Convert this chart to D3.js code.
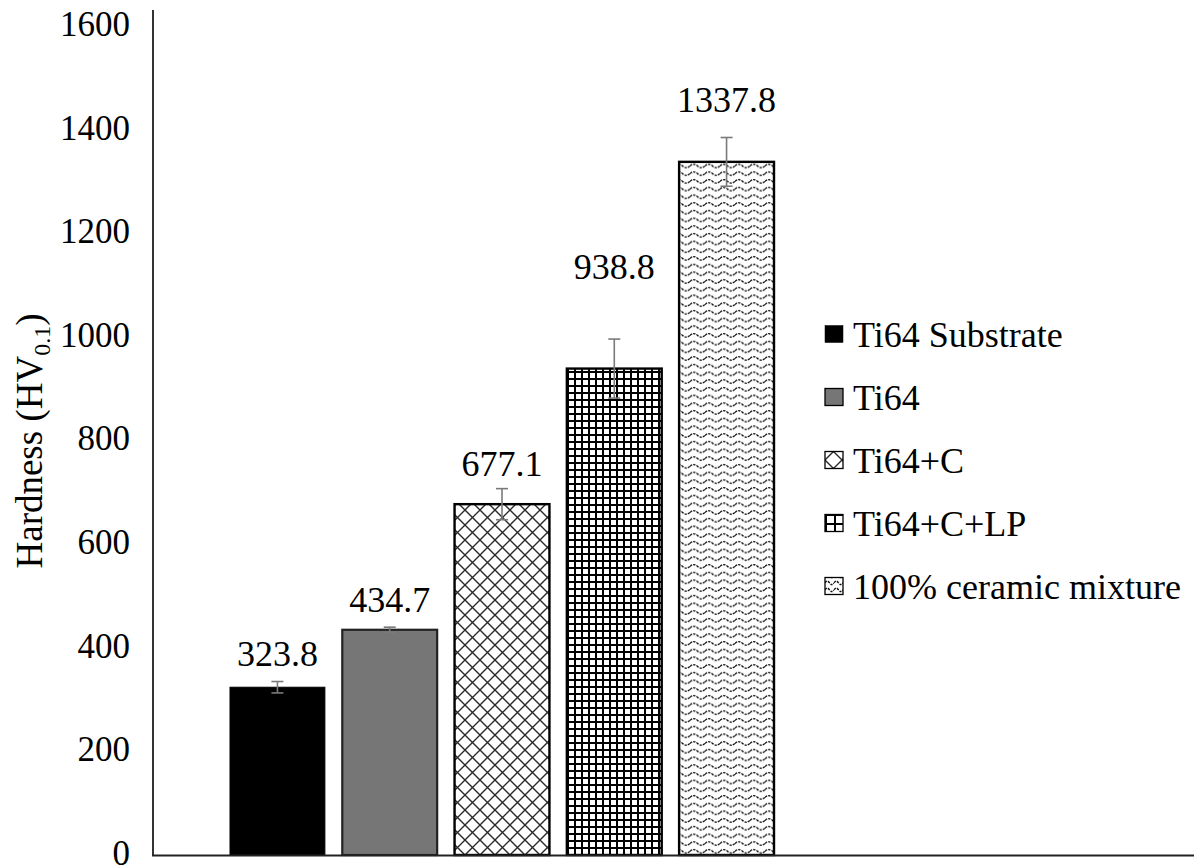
<!DOCTYPE html>
<html>
<head>
<meta charset="utf-8">
<script src="https://cdn.jsdelivr.net/npm/d3@7"></script>
<style>
  html, body { margin: 0; padding: 0; background: #fff; }
  svg { display: block; }
</style>
</head>
<body>
<svg id="chart" width="1194" height="867"></svg>
<script>
// Microhardness of the substrate and the laser-deposited layers
const categories = ["Ti64 Substrate", "Ti64", "Ti64+C", "Ti64+C+LP", "100% ceramic mixture"];
const hardness = [323.8, 434.7, 677.1, 938.8, 1337.8];
const hardnessErr = [11, 5, 30, 57, 47];
const yTicks = [0, 200, 400, 600, 800, 1000, 1200, 1400, 1600];
const fills = ["solid-black", "solid-grey", "hatch", "grid", "wave"];

// pixel lift of each value label above its error-bar cap
const labelLift = [16, 15, 13, 60, 26];

const FONT = "'Liberation Serif', Tinos, 'Times New Roman', 'DejaVu Serif', serif";

const svg = d3.select("#chart").attr("font-family", FONT);
const W = 1194, H = 867;
const axisX = 153, axisTop = 10, baseY = 855.5;

const y = d3.scaleLinear().domain([0, 1600]).range([855, 26]);
const x = d3.scaleBand().domain(categories).range([230, 774]).paddingInner(0.155).paddingOuter(0);

// ---- fill patterns ----
const defs = svg.append("defs");
function makeHatch(id, s) {
  const p = defs.append("pattern").attr("id", id).attr("patternUnits", "userSpaceOnUse")
    .attr("width", s).attr("height", s);
  p.append("rect").attr("width", s).attr("height", s).attr("fill", "#fff");
  p.append("path").attr("d", `M-1,-1L${s + 1},${s + 1}M${s + 1},-1L-1,${s + 1}`)
    .attr("stroke", "#2a2a2a").attr("stroke-width", 1.4).attr("fill", "none");
  return p;
}
function makeGrid(id, s, w) {
  const p = defs.append("pattern").attr("id", id).attr("patternUnits", "userSpaceOnUse")
    .attr("width", s).attr("height", s);
  p.append("rect").attr("width", s).attr("height", s).attr("fill", "#fff");
  p.append("rect").attr("width", w).attr("height", s).attr("fill", "#000");
  p.append("rect").attr("width", s).attr("height", w).attr("fill", "#000");
  return p;
}
function makeWave(id, sw, sh) {
  const p = defs.append("pattern").attr("id", id).attr("patternUnits", "userSpaceOnUse")
    .attr("width", sw).attr("height", sh);
  p.append("rect").attr("width", sw).attr("height", sh).attr("fill", "#fff");
  const m = sh * 0.55;
  p.append("path")
    .attr("d", `M0,${m}Q${sw / 4},${m - 3.4} ${sw / 2},${m}T${sw},${m}`)
    .attr("stroke", "#111").attr("stroke-width", 1.4).attr("fill", "none")
    .attr("stroke-dasharray", "2.4,1.1");
  return p;
}
makeHatch("hatch", 15);
makeGrid("grid", 7, 2);
makeWave("wave", 15, 7.7);
makeHatch("hatch-key", 17);
makeGrid("grid-key", 9, 2);
makeWave("wave-key", 9, 7);

function fillFor(f, key) {
  if (f === "solid-black") return "#000";
  if (f === "solid-grey") return "#767676";
  return `url(#${f}${key ? "-key" : ""})`;
}
function strokeFor(f) {
  if (f === "solid-black") return "#000";
  if (f === "solid-grey") return "#222";
  return "#000";
}
function strokeWidthFor(f) {
  if (f === "solid-black") return 1;
  if (f === "solid-grey") return 2.2;
  return 2.4;
}

// ---- bars ----
const data = categories.map((c, i) => ({ c, v: hardness[i], e: hardnessErr[i], f: fills[i], lift: labelLift[i] }));

svg.append("g").selectAll("rect").data(data).join("rect")
  .attr("x", d => x(d.c))
  .attr("y", d => y(d.v))
  .attr("width", x.bandwidth())
  .attr("height", d => y(0) - y(d.v))
  .attr("fill", d => fillFor(d.f, false))
  .attr("stroke", d => strokeFor(d.f))
  .attr("stroke-width", d => strokeWidthFor(d.f));

// ---- error bars ----
const eg = svg.append("g").attr("stroke", "#7a7a7a").attr("stroke-width", 1.6).attr("fill", "none");
data.forEach(d => {
  const cx = x(d.c) + x.bandwidth() / 2;
  eg.append("line").attr("x1", cx).attr("x2", cx).attr("y1", y(d.v + d.e)).attr("y2", y(d.v - d.e));
  eg.append("line").attr("x1", cx - 6).attr("x2", cx + 6).attr("y1", y(d.v + d.e)).attr("y2", y(d.v + d.e));
  eg.append("line").attr("x1", cx - 6).attr("x2", cx + 6).attr("y1", y(d.v - d.e)).attr("y2", y(d.v - d.e));
});

// ---- value labels ----
svg.append("g").selectAll("text").data(data).join("text")
  .attr("x", d => x(d.c) + x.bandwidth() / 2)
  .attr("y", d => y(d.v + d.e) - d.lift)
  .attr("text-anchor", "middle")
  .attr("font-family", FONT)
  .attr("font-size", 36)
  .attr("fill", "#000")
  .text(d => d.v.toFixed(1));

// ---- axes ----
const yAxis = d3.axisLeft(y).tickValues(yTicks).tickSize(0).tickPadding(23).tickFormat(d3.format("d"));
const gy = svg.append("g").attr("transform", `translate(${axisX},0)`).call(yAxis)
  .attr("font-family", FONT).attr("font-size", 35);
gy.select(".domain").remove();
gy.selectAll("text").attr("fill", "#000").attr("dy", "0.27em");

svg.append("line").attr("x1", axisX).attr("x2", axisX).attr("y1", axisTop).attr("y2", baseY)
  .attr("stroke", "#000").attr("stroke-width", 1.6);
svg.append("line").attr("x1", axisX - 1).attr("x2", W).attr("y1", baseY).attr("y2", baseY)
  .attr("stroke", "#222").attr("stroke-width", 2.2);

// ---- y title ----
const yt = svg.append("text")
  .attr("transform", `translate(42,441) rotate(-90)`)
  .attr("text-anchor", "middle")
  .attr("font-family", FONT)
  .attr("font-size", 37)
  .attr("fill", "#000");
yt.append("tspan").text("Hardness (HV");
yt.append("tspan").attr("font-size", 24).attr("dy", 8).text("0.1");
yt.append("tspan").attr("dy", -8).text(")");

// ---- legend ----
const lg = svg.append("g").selectAll("g").data(data).join("g")
  .attr("transform", (d, i) => `translate(825,${334 + i * 63})`);
lg.append("rect").attr("x", 0).attr("y", -8.5).attr("width", 18).attr("height", 17)
  .attr("fill", d => fillFor(d.f, true))
  .attr("stroke", "#000").attr("stroke-width", d => d.f === "solid-black" ? 0.5 : 1.3);
lg.append("text").attr("x", 28).attr("y", 0).attr("dy", "0.35em")
  .attr("font-family", FONT).attr("font-size", 36).attr("fill", "#000")
  .text(d => d.c);
</script>
</body>
</html>
